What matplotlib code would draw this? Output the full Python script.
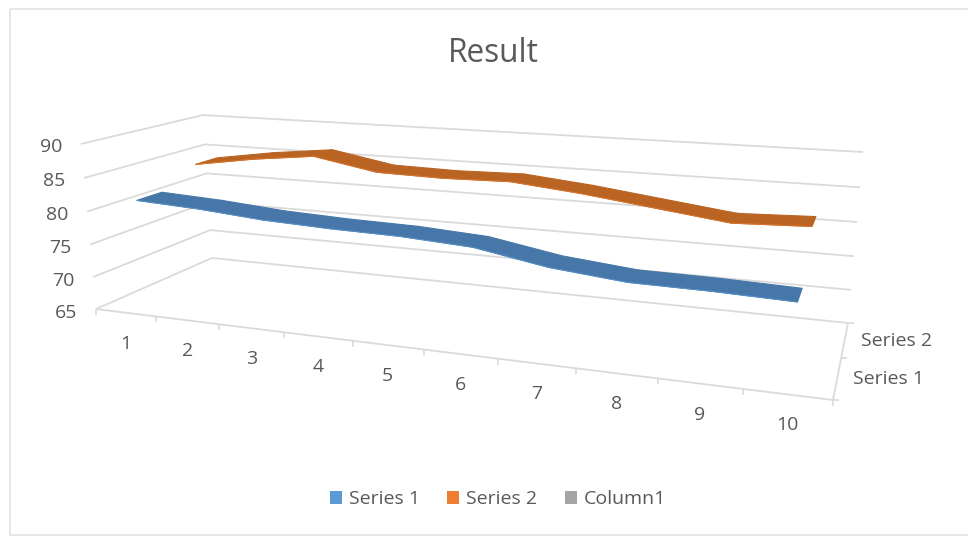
import numpy as np
import matplotlib
matplotlib.use("Agg")
import matplotlib.pyplot as plt
from matplotlib.collections import PolyCollection, LineCollection
from matplotlib.patches import Patch, Rectangle

title = "Result"
categories = ["1", "2", "3", "4", "5", "6", "7", "8", "9", "10"]
series_names = ["Series 1", "Series 2"]
legend_names = ["Series 1", "Series 2", "Column1"]
series_1 = [81.1, 80.6, 79.8, 79.4, 79.2, 78.6, 76.8, 75.8, 75.7, 75.4]
series_2 = [83.8, 85.3, 86.4, 84.6, 84.4, 84.6, 83.6, 82.3, 81.0, 81.4]
y_ticks = [65, 70, 75, 80, 85, 90]

TEXT = "#595959"
GRID = "#DADADA"
FONT = "Open Sans"

# Camera of the 3D chart box: (category, depth, value) -> picture pixels
box = [((0, 0, 90), (81, 144)), ((0, 0, 65), (96, 309)),
       ((0, 2, 90), (203, 115)), ((0, 2, 65), (212, 258)),
       ((10, 2, 90), (863, 152)), ((10, 2, 65), (848, 323)),
       ((10, 0, 65), (833, 400))]
rows = []
for (u, v, z), (px, py) in box:
    rows.append([u, v, z, 1, 0, 0, 0, 0, -px*u, -px*v, -px*z, -px])
    rows.append([0, 0, 0, 0, u, v, z, 1, -py*u, -py*v, -py*z, -py])
CAM = np.linalg.svd(np.array(rows, float))[2][-1].reshape(3, 4)

def project(u, v, z):
    h = CAM @ np.array([u, v, z, 1.0])
    return h[0] / h[2], h[1] / h[2]

fig = plt.figure(figsize=(9.68, 5.36), dpi=100, facecolor="white")
ax = fig.add_axes([0, 0, 1, 1])
ax.set_xlim(0, 968)
ax.set_ylim(536, 0)
ax.axis("off")

# chart frame
ax.add_patch(Rectangle((10, 9), 975, 526, fill=False, ec="#E3E3E3", lw=1.2, clip_on=True))

n = len(categories)
# gridlines on side wall and back wall
grid = [[project(0, 0, t), project(0, 2, t), project(n, 2, t)] for t in y_ticks]
# floor edges and ticks
grid.append([project(0, 0, 65), project(n, 0, 65), project(n, 2, 65)])
ax.add_collection(LineCollection(grid, colors=GRID, linewidths=1.3, zorder=1))
ticks = []
for i in range(n + 1):
    x, y = project(i, 0, 65)
    ticks.append([(x, y), (x, y + 6)])
for d in range(3):
    x, y = project(n, d, 65)
    ticks.append([(x, y), (x + 6, y)])
ax.add_collection(LineCollection(ticks, colors=GRID, linewidths=1.2, zorder=1))

# ribbons, back series first
HALF = 0.2
for values, depth, top, edge in [(series_2, 1.5, "#BA6423", "#D9732B"),
                                 (series_1, 0.5, "#4677A8", "#5490C8")]:
    polys, front = [], []
    for i in range(n - 1):
        a, b = values[i], values[i + 1]
        polys.append([project(i + .5, depth - HALF, a), project(i + 1.5, depth - HALF, b),
                      project(i + 1.5, depth + HALF, b), project(i + .5, depth + HALF, a)])
        front.append([project(i + .5, depth - HALF, a), project(i + 1.5, depth - HALF, b)])
    ax.add_collection(PolyCollection(polys, facecolors=top, edgecolors=top, linewidths=0.8, zorder=2))
    ax.add_collection(LineCollection(front, colors=edge, linewidths=0.7, zorder=3))

# texts
ax.text(493, 54, title, ha="center", va="center", fontsize=22.8, color=TEXT, family=FONT)
for t in y_ticks:
    x, y = project(0, 0, t)
    ax.text(x - 19, y + 3.5, str(t), ha="right", va="center", fontsize=14, color=TEXT, family=FONT)
for i, c in enumerate(categories):
    x, y = project(i + .5, 0, 65)
    ax.text(x, y + 31, c, ha="center", va="center", fontsize=14, color=TEXT, family=FONT)
for d, s in enumerate(series_names):
    x, y = project(n, d + .5, 65)
    ax.text(x + 16, y + 1.5, s, ha="left", va="center", fontsize=14, color=TEXT, family=FONT)

handles = [Patch(fc=c, ec="none") for c in ("#5B9BD5", "#ED7D31", "#A5A5A5")]
ax.legend(handles, legend_names, ncol=3, loc="center", bbox_to_anchor=(498 / 968, 1 - 499.5 / 536),
          frameon=False, handlelength=0.62, handleheight=0.62, handletextpad=0.36,
          columnspacing=1.4, labelcolor=TEXT, prop={"family": FONT, "size": 14})

fig.savefig("out.png", dpi=100, facecolor="white")
